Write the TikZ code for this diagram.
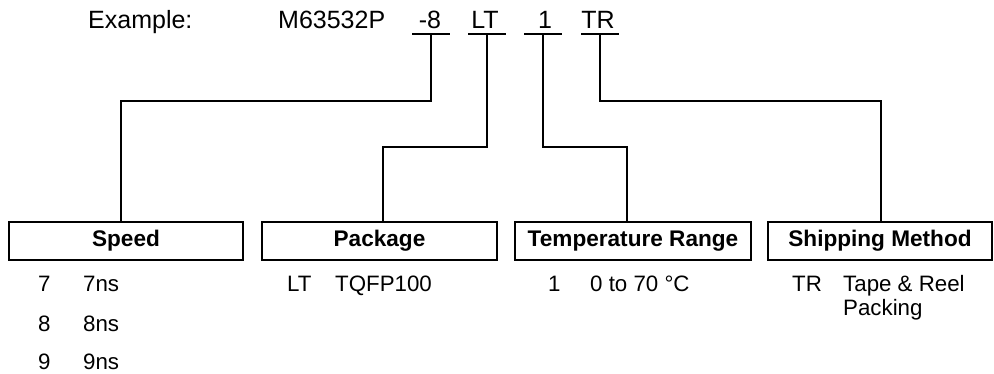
\documentclass[tikz,border=0pt]{standalone}
\usepackage{fontspec}
\setmainfont{Liberation Sans}
\begin{document}
\begin{tikzpicture}[x=1pt,y=-1pt,
  conn/.style={line width=2pt},
  box/.style={draw, line width=2pt, minimum height=38pt, inner sep=0pt, font=\fontsize{22.6}{26}\selectfont\bfseries},
  toptext/.style={inner sep=0pt, font=\fontsize{25}{30}\selectfont},
  item/.style={anchor=base west, inner sep=0pt, font=\fontsize{22.3}{26}\selectfont}]
\useasboundingbox (0,0) rectangle (994,374);
% top line
\node[toptext, anchor=base west] (ex) at (88,29) {Example:};
\node[toptext, anchor=base west] (part) at (278,29) {M63532P};
\node[toptext, anchor=base] (c1) at (430,29) {-8};
\node[toptext, anchor=base] (c2) at (485,29) {LT};
\node[toptext, anchor=base] (c3) at (545,29) {1};
\node[toptext, anchor=base] (c4) at (598,29) {TR};
% underline centres
\coordinate (u1) at (431,34);
\coordinate (u2) at (487,34);
\coordinate (u3) at (543,34);
\coordinate (u4) at (600,34);
\foreach \u in {u1,u2,u3,u4}
  \draw[conn] ([xshift=-19pt]\u) -- ([xshift=19pt]\u);
% boxes
\node[box, minimum width=234pt] (speed) at (126,241) {Speed};
\node[box, minimum width=235pt] (pack) at (379.5,241) {Package};
\node[box, minimum width=236pt] (temp) at (633,241) {Temperature Range};
\node[box, minimum width=224pt] (ship) at (880,241) {Shipping Method};
% bends
\coordinate (b1) at (121,101);
\coordinate (b2) at (383,147);
\coordinate (b3) at (627,147);
\coordinate (b4) at (881,101);
\draw[conn] (u1) |- (b1) -- (b1 |- speed.north);
\draw[conn] (u2) |- (b2) -- (b2 |- pack.north);
\draw[conn] (u3) |- (b3) -- (b3 |- temp.north);
\draw[conn] (u4) |- (b4) -- (b4 |- ship.north);
% items
\node[item] (s7) at (38,291) {7};
\node[item] (s7d) at (83,291) {7ns};
\node[item] (s8) at (38,331) {8};
\node[item] (s8d) at (83,331) {8ns};
\node[item] (s9) at (38,370) {9};
\node[item] (s9d) at (83,370) {9ns};
\node[item] (plt) at (287,291) {LT};
\node[item] (pltd) at (335,291) {TQFP100};
\node[item] (t1) at (548,291) {1};
\node[item] (t1d) at (590,291) {0 to 70 °C};
\node[item] (str) at (792,291) {TR};
\node[item] (strd) at (843,291) {Tape \& Reel};
\node[item] (strd2) at (843,316) {Packing};
\end{tikzpicture}
\end{document}
